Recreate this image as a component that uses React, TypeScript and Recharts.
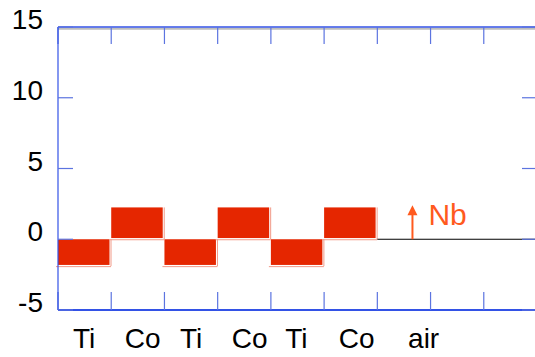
import React from 'react';
import { ComposedChart, Bar, XAxis, YAxis, ReferenceLine } from 'recharts';

const bins = ['1', '2', '3', '4', '5', '6', '7', '8', '9'];
const layerValues: (number | null)[] = [-1.9, 2.25, -1.9, 2.25, -1.9, 2.25, null, null, null];
const layerLabels = ['Ti', 'Co', 'Ti', 'Co', 'Ti', 'Co', 'air'];
const labelPositions = [0.49, 1.59, 2.5, 3.6, 4.48, 5.61, 6.87];
const yTicks = [-5, 0, 5, 10, 15];
const xFrameTicks = [0, 1, 2, 3, 4, 5, 6, 7, 8, 9];
const zeroLineStart = 6;
const zeroLineEnd = 9;
const nbX = 6.66;
const nbTop = 2.4;
const nbLabel = 'Nb';

const data = bins.map((b, i) => ({ bin: b, pos: i, v: layerValues[i] }));

const FONT = '"Liberation Sans", Arial, sans-serif';
const AXIS = '#3352E6';
const TICK = '#5C74E0';
const RED = '#E52600';
const ORANGE = '#FF5A1E';

const EmptyTick = () => null;

const BarShape = (props: any) => {
  const { x, y, width, height } = props;
  if (height == null || width == null) return null;
  const top = Math.min(y, y + height);
  const h = Math.abs(height);
  return (
    <g>
      <rect x={x} y={top} width={Math.max(width - 1.5, 0)} height={Math.max(h - 1.2, 0)} fill={RED} />
      <line x1={x + width} y1={top} x2={x + width} y2={top + h} stroke="#F19A88" strokeWidth={1} />
      <line x1={x - 2} y1={top + h + 0.5} x2={x + width} y2={top + h + 0.5} stroke="#F19A88" strokeWidth={1} />
    </g>
  );
};

const YTick = (props: any) => {
  const { x, y, payload } = props;
  return (
    <text x={x} y={y + 2} textAnchor="end" fontSize={28} fontFamily={FONT} fill="#000">
      {payload.value}
    </text>
  );
};

const XLabelTick = (props: any) => {
  const { x, y, index } = props;
  return (
    <text x={x} y={y + 38} textAnchor="middle" fontSize={28} fontFamily={FONT} fill="#000">
      {layerLabels[index]}
    </text>
  );
};

const ArrowShape = (props: any) => {
  const { x1, y1, x2, y2 } = props;
  const bx = Math.min(y1, y2) === y2 ? x2 : x1;
  const tipY = Math.min(y1, y2);
  const baseY = Math.max(y1, y2);
  return (
    <g>
      <line x1={bx} y1={baseY} x2={bx} y2={tipY + 8} stroke={ORANGE} strokeWidth={2} />
      <polygon points={`${bx},${tipY} ${bx - 5},${tipY + 10} ${bx + 5},${tipY + 10}`} fill={ORANGE} />
      <text x={bx + 16} y={baseY - 14} fontSize={30} fontFamily={FONT} fill={ORANGE}>
        {nbLabel}
      </text>
    </g>
  );
};

const ShadowShape = (props: any) => {
  const { x1, y1, x2 } = props;
  return <line x1={x1} y1={y1 + 1.8} x2={x2} y2={y1 + 1.8} stroke="#BDBDBD" strokeWidth={2} />;
};

export default function App() {
  return (
    <div style={{ position: 'absolute', left: 0, top: 0, width: 535, height: 357, overflow: 'hidden', background: '#fff' }}>
      <ComposedChart
        width={540}
        height={357}
        data={data}
        margin={{ top: 27, right: 3, left: 0, bottom: 7 }}
        barCategoryGap={0}
        barGap={0}
      >
        <XAxis
          xAxisId="labels"
          dataKey="pos"
          type="number"
          orientation="bottom"
          domain={[0, 9]}
          ticks={labelPositions}
          allowDataOverflow
          interval={0}
          height={40}
          axisLine={false}
          tickLine={false}
          tickSize={0}
          tickMargin={0}
          tick={<XLabelTick />}
        />
        <XAxis xAxisId="cat" dataKey="bin" type="category" orientation="top" height={0} hide />
        <XAxis
          xAxisId="top"
          dataKey="pos"
          type="number"
          orientation="top"
          domain={[0, 9]}
          ticks={xFrameTicks}
          allowDataOverflow
          interval={0}
          mirror
          tick={<EmptyTick />}
          tickSize={17}
          axisLine={{ stroke: AXIS, strokeWidth: 1.5 }}
          tickLine={{ stroke: TICK, strokeWidth: 1.2 }}
        />
        <XAxis
          xAxisId="bottom"
          dataKey="pos"
          type="number"
          orientation="bottom"
          domain={[0, 9]}
          ticks={xFrameTicks}
          allowDataOverflow
          interval={0}
          mirror
          tick={<EmptyTick />}
          tickSize={18}
          axisLine={{ stroke: AXIS, strokeWidth: 2 }}
          tickLine={{ stroke: TICK, strokeWidth: 1.2 }}
        />
        <YAxis
          yAxisId="val"
          type="number"
          orientation="left"
          domain={[-5, 15]}
          ticks={yTicks}
          allowDataOverflow
          interval={0}
          width={58}
          axisLine={false}
          tickLine={false}
          tickSize={0}
          tickMargin={15}
          tick={<YTick />}
        />
        <YAxis
          yAxisId="left"
          type="number"
          orientation="left"
          domain={[-5, 15]}
          ticks={yTicks}
          allowDataOverflow
          interval={0}
          mirror
          tick={<EmptyTick />}
          tickSize={15}
          axisLine={{ stroke: AXIS, strokeWidth: 1.2 }}
          tickLine={{ stroke: TICK, strokeWidth: 1.2 }}
        />
        <YAxis
          yAxisId="right"
          type="number"
          orientation="right"
          domain={[-5, 15]}
          ticks={yTicks}
          allowDataOverflow
          interval={0}
          mirror
          tick={<EmptyTick />}
          tickSize={15}
          axisLine={{ stroke: AXIS, strokeWidth: 1.2 }}
          tickLine={{ stroke: TICK, strokeWidth: 1.2 }}
        />
        <ReferenceLine
          xAxisId="bottom"
          yAxisId="val"
          y={15}
          shape={<ShadowShape />}
        />
        <ReferenceLine
          xAxisId="bottom"
          yAxisId="val"
          segment={[{ x: zeroLineStart, y: 0 }, { x: zeroLineEnd, y: 0 }]}
          stroke="#000"
          strokeWidth={1.2}
          ifOverflow="visible"
        />
        <Bar xAxisId="cat" yAxisId="val" dataKey="v" shape={<BarShape />} isAnimationActive={false} />
        <ReferenceLine
          xAxisId="bottom"
          yAxisId="val"
          segment={[{ x: nbX, y: 0 }, { x: nbX, y: nbTop }]}
          shape={<ArrowShape />}
        />
      </ComposedChart>
    </div>
  );
}
